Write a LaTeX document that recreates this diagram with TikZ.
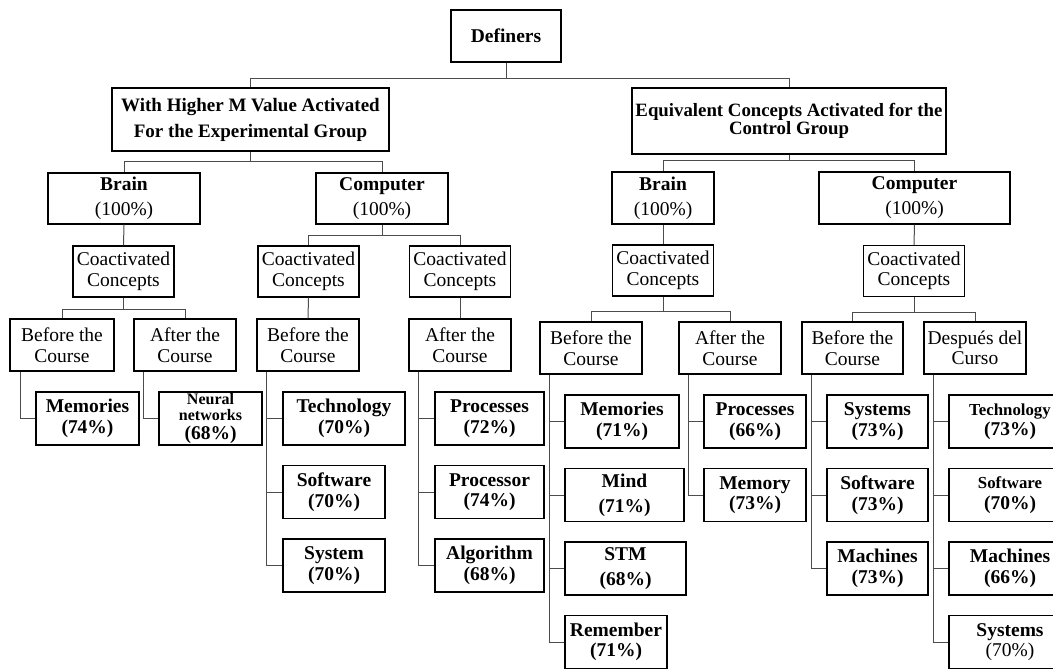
\documentclass[tikz,border=0pt]{standalone}
\usepackage{fontspec}
\setmainfont{Liberation Serif}
\newcommand{\myfn}{\fontsize{19.5}{20.5}\selectfont}
\newcommand{\myfw}{\fontsize{19.5}{25}\selectfont}
\newcommand{\myfsm}{\fontsize{16.8}{20}\selectfont}
\newcommand{\myfxs}{\fontsize{16}{15}\selectfont}
\begin{document}
\begin{tikzpicture}[x=1pt,y=-1pt,
  box/.style={draw=black, line width=1.4pt, inner sep=0pt, align=center, font=\myfn},
  ca/.style={box, minimum width=101pt, minimum height=51pt},
  leaf/.style={box, font=\myfn\bfseries, minimum height=53pt},
  conn/.style={draw=black!70, line width=1pt}]
\useasboundingbox (0,0) rectangle (1053,669);

% top levels
\node[box, minimum width=110pt, minimum height=52pt, font=\myfn\bfseries] (def) at (506,36) {Definers};
\node[box, minimum width=277pt, minimum height=63pt, font=\fontsize{19}{26}\selectfont\bfseries] (gL) at (250.5,119.5) {With Higher M Value Activated\\For the Experimental Group};
\node[box, minimum width=314pt, minimum height=66pt, font=\fontsize{18.8}{18.5}\selectfont\bfseries] (gR) at (789,121) {Equivalent Concepts Activated for the\\Control Group};

\node[box, minimum width=152pt, minimum height=51pt, font=\myfw] (brL) at (124,198.5) {\textbf{Brain}\\(100\%)};
\node[box, minimum width=132pt, minimum height=51pt, font=\myfw] (coL) at (382,198.5) {\textbf{Computer}\\(100\%)};
\node[box, minimum width=102pt, minimum height=52pt, font=\myfw] (brR) at (663,198) {\textbf{Brain}\\(100\%)};
\node[box, minimum width=191pt, minimum height=52pt, font=\myfw] (coR) at (914.5,198) {\textbf{Computer}\\(100\%)};

% coactivated
\node[ca] (caL1) at (123.5,271.5) {Coactivated\\Concepts};
\node[ca] (caL2) at (308.5,271.5) {Coactivated\\Concepts};
\node[ca] (caL3) at (460,271.5) {Coactivated\\Concepts};
\node[ca] (caR1) at (663,270.5) {Coactivated\\Concepts};
\node[ca] (caR2) at (914,271) {Coactivated\\Concepts};

% before / after
\node[box, minimum width=104pt, minimum height=52pt] (bfL1) at (62,345) {Before the\\Course};
\node[box, minimum width=102pt, minimum height=52pt] (afL1) at (185,345) {After the\\Course};
\node[box, minimum width=102pt, minimum height=52pt] (bfL2) at (308,345) {Before the\\Course};
\node[box, minimum width=102pt, minimum height=52pt] (afL3) at (460,345) {After the\\Course};
\node[box, minimum width=102pt, minimum height=52pt] (bfR1) at (591,348) {Before the\\Course};
\node[box, minimum width=102pt, minimum height=52pt] (afR1) at (730,348) {After the\\Course};
\node[box, minimum width=101pt, minimum height=52pt] (bfR2) at (852.5,348) {Before the\\Course};
\node[box, minimum width=102pt, minimum height=52pt] (deR2) at (975,348) {Después del\\Curso};

% leaves left
\node[leaf, minimum width=103pt] (memL) at (87.5,418.5) {Memories\\(74\%)};
\node[leaf, minimum width=103pt] (neuL) at (210.5,418.5) {{\myfxs Neural}\\[-4.5pt]{\myfxs networks}\\[-2pt](68\%)};
\node[leaf, minimum width=122pt] (tecL) at (344,418.5) {Technology\\(70\%)};
\node[leaf, minimum width=102pt] (sofL) at (334,492) {Software\\(70\%)};
\node[leaf, minimum width=102pt] (sysL) at (334,565.5) {System\\(70\%)};
\node[leaf, minimum width=109pt] (prcL) at (489.5,418.5) {Processes\\(72\%)};
\node[leaf, minimum width=109pt] (prrL) at (489.5,492) {Processor\\(74\%)};
\node[leaf, minimum width=109pt] (algL) at (489.5,565.5) {Algorithm\\(68\%)};

% leaves right
\node[leaf, minimum width=114pt] (memR) at (622,421.5) {Memories\\(71\%)};
\node[leaf, minimum width=119pt, font=\myfw\bfseries] (mindR) at (624.5,495) {Mind\\(71\%)};
\node[leaf, minimum width=121pt, font=\myfw\bfseries] (stmR) at (625.5,568.5) {STM\\(68\%)};
\node[leaf, minimum width=102pt] (remR) at (616,642) {Remember\\(71\%)};
\node[leaf, minimum width=102pt] (procR) at (755,421.5) {Processes\\(66\%)};
\node[leaf, minimum width=102pt] (memoR) at (755,495) {Memory\\(73\%)};
\node[leaf, minimum width=101pt] (sysR) at (877.5,421.5) {Systems\\(73\%)};
\node[leaf, minimum width=101pt] (sofR) at (877.5,495) {Software\\(73\%)};
\node[leaf, minimum width=101pt] (macR) at (877.5,568.5) {Machines\\(73\%)};
\node[leaf, minimum width=122pt] (tecR2) at (1010,421.5) {{\myfsm Technology}\\(73\%)};
\node[leaf, minimum width=122pt] (sofR2) at (1010,495) {{\myfsm Software}\\(70\%)};
\node[leaf, minimum width=122pt] (macR2) at (1010,568.5) {Machines\\(66\%)};
\node[leaf, minimum width=122pt] (sysR2) at (1010,642) {Systems\\{\mdseries(70\%)}};

% tree connectors
\draw[conn] (def.south) -- ++(0,16) coordinate (j0) -| (gL.north) (j0) -| (gR.north);
\draw[conn] (gL.south) -- ++(0,10) coordinate (j1) -| (brL.north) (j1) -| (coL.north);
\draw[conn] (gR.south) -- ++(0,6) coordinate (j2) -| (brR.north) (j2) -| (coR.north);
\draw[conn] (brL.south) -- (caL1.north);
\draw[conn] (coL.south) -- ++(0,11) coordinate (j3) -| (caL2.north) (j3) -| (caL3.north);
\draw[conn] (brR.south) -- (caR1.north);
\draw[conn] (coR.south) -- (caR2.north);
\draw[conn] (caL1.south) -- ++(0,12) coordinate (j4) -| (bfL1.north) (j4) -| (afL1.north);
\draw[conn] (caL2.south) -- (bfL2.north);
\draw[conn] (caL3.south) -- (afL3.north);
\draw[conn] (caR1.south) -- ++(0,15) coordinate (j5) -| (bfR1.north) (j5) -| (afR1.north);
\draw[conn] (caR2.south) -- ++(0,15) coordinate (j6) -| (bfR2.north) (j6) -| (deR2.north);

% leaf connectors
\draw[conn] ([xshift=11pt]bfL1.south west) |- (memL.west);
\draw[conn] ([xshift=10pt]afL1.south west) |- (neuL.west);
\draw[conn] ([xshift=10pt]bfL2.south west) |- (tecL.west);
\draw[conn] ([xshift=10pt]bfL2.south west) |- (sofL.west);
\draw[conn] ([xshift=10pt]bfL2.south west) |- (sysL.west);
\draw[conn] ([xshift=10pt]afL3.south west) |- (prcL.west);
\draw[conn] ([xshift=10pt]afL3.south west) |- (prrL.west);
\draw[conn] ([xshift=10pt]afL3.south west) |- (algL.west);
\draw[conn] ([xshift=10pt]bfR1.south west) |- (memR.west);
\draw[conn] ([xshift=10pt]bfR1.south west) |- (mindR.west);
\draw[conn] ([xshift=10pt]bfR1.south west) |- (stmR.west);
\draw[conn] ([xshift=10pt]bfR1.south west) |- (remR.west);
\draw[conn] ([xshift=10pt]afR1.south west) |- (procR.west);
\draw[conn] ([xshift=10pt]afR1.south west) |- (memoR.west);
\draw[conn] ([xshift=10pt]bfR2.south west) |- (sysR.west);
\draw[conn] ([xshift=10pt]bfR2.south west) |- (sofR.west);
\draw[conn] ([xshift=10pt]bfR2.south west) |- (macR.west);
\draw[conn] ([xshift=10pt]deR2.south west) |- (tecR2.west);
\draw[conn] ([xshift=10pt]deR2.south west) |- (sofR2.west);
\draw[conn] ([xshift=10pt]deR2.south west) |- (macR2.west);
\draw[conn] ([xshift=10pt]deR2.south west) |- (sysR2.west);
\end{tikzpicture}
\end{document}
